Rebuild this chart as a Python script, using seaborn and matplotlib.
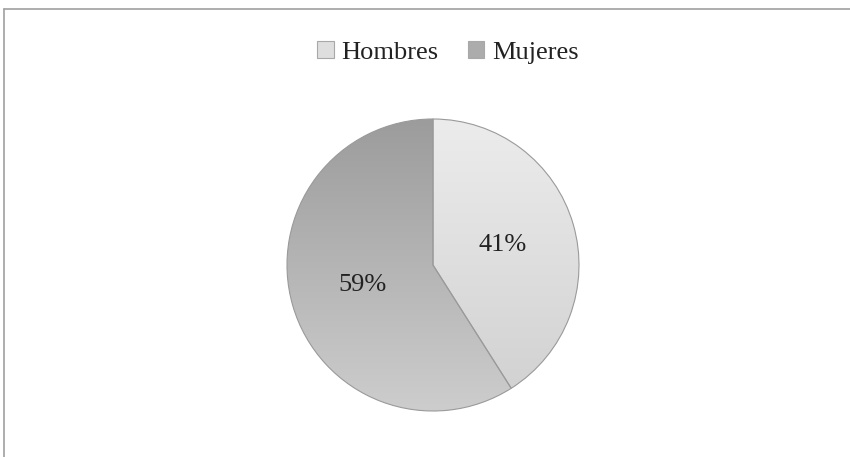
import numpy as np
import seaborn as sns
import matplotlib
matplotlib.use("Agg")
import matplotlib.pyplot as plt
from matplotlib.colors import LinearSegmentedColormap
from matplotlib.patches import Patch
from matplotlib.lines import Line2D

# datos
etiquetas = ['Hombres', 'Mujeres']
valores = [41, 59]

# degradados (arriba -> abajo) de cada porción
degradados = [('#ececec', '#d0d0d0'), ('#9c9c9c', '#cdcdcd')]
colores_leyenda = ['#dedede', '#acacac']

sns.set_theme(style='white')
plt.rcParams['font.family'] = ['Liberation Serif', 'DejaVu Serif']

fig = plt.figure(figsize=(8.5, 4.57), dpi=100)
ax = fig.add_axes([0, 0, 1, 1])
ax.axis('off')

# pastel: inicio a las 12 y sentido horario
wedges, textos, pcts = ax.pie(valores, startangle=90, counterclock=False,
                              radius=1, center=(0, 0), autopct='%.0f%%',
                              pctdistance=0.5,
                              wedgeprops=dict(facecolor='none', edgecolor='#9a9a9a',
                                              linewidth=0.8),
                              textprops=dict(fontsize=19, color='#222222'))

# relleno en degradado vertical recortado por cada porción
for w, (c1, c2) in zip(wedges, degradados):
    cmap = LinearSegmentedColormap.from_list('g', [c1, c2])
    grad = np.linspace(0, 1, 256).reshape(-1, 1)
    im = ax.imshow(grad, cmap=cmap, extent=(-1, 1, -1, 1), origin='upper',
                   aspect='auto', zorder=0.5, interpolation='bilinear')
    im.set_clip_path(w)

# escala: 1 unidad = 146 px, centro en (433, 265) px
r = 146
ax.set_xlim(-433 / r, (850 - 433) / r)
ax.set_ylim(-(457 - 265) / r, 265 / r)
ax.set_aspect('auto')

# leyenda
handles = [Patch(facecolor=c, edgecolor='#a8a8a8', linewidth=0.8) for c in colores_leyenda]
fig.legend(handles, etiquetas, loc='center', bbox_to_anchor=(0.527, 0.886),
           ncol=2, frameon=False, fontsize=19, handlelength=0.62, handleheight=0.62,
           handletextpad=0.3, columnspacing=1.1, labelcolor='#222222')

# borde del recuadro (arriba e izquierda)
fig.add_artist(Line2D([4 / 850, 1], [1 - 9 / 457, 1 - 9 / 457], color='#a0a0a0', lw=1.2,
                      transform=fig.transFigure))
fig.add_artist(Line2D([4 / 850, 4 / 850], [0, 1 - 9 / 457], color='#a0a0a0', lw=1.2,
                      transform=fig.transFigure))

fig.savefig('out.png', dpi=100)
